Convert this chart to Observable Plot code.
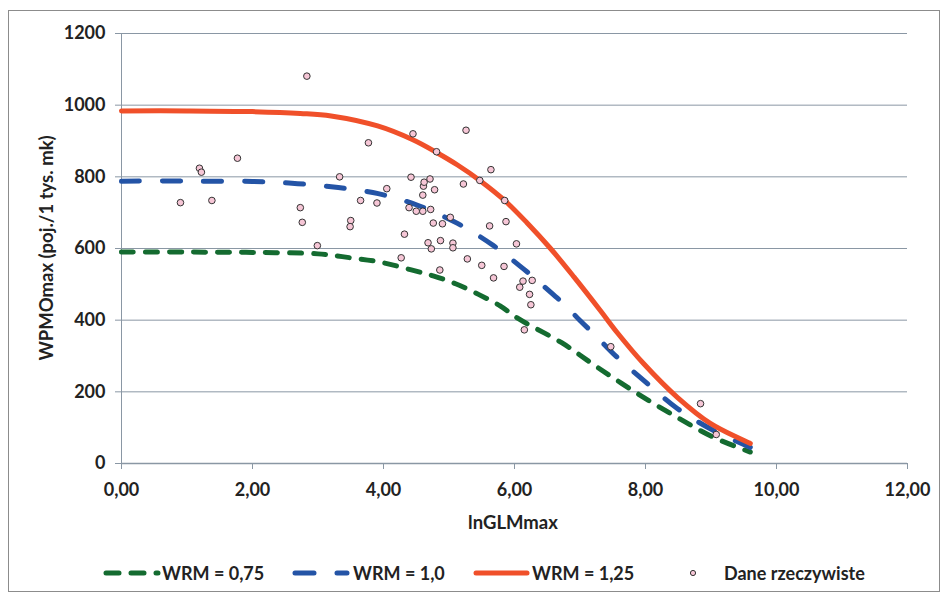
<!DOCTYPE html>
<html>
<head>
<meta charset="utf-8">
<script src="https://cdn.jsdelivr.net/npm/d3@7"></script>
<script src="https://cdn.jsdelivr.net/npm/@observablehq/plot@0.6"></script>
<style>
  html, body { margin: 0; padding: 0; background: #fff; }
  #wrap { position: relative; width: 944px; height: 600px; overflow: hidden; font-family: Lato, "Open Sans", sans-serif; font-weight: bold; color: #222; }
  #frame { position: absolute; left: 8px; top: 10px; width: 930px; height: 580px; border: 1px solid #8c8c8c; }
  #chart { position: absolute; left: 0; top: 0; }
  .ytitle { position: absolute; left: 46px; top: 248px; transform: translate(-50%, -50%) rotate(-90deg); white-space: nowrap; font-size: 18.5px; }
  .xtitle { position: absolute; left: 513px; top: 522px; transform: translate(-50%, -50%); white-space: nowrap; font-size: 18.5px; }
  .leg { position: absolute; top: 573px; transform: translateY(-50%); display: flex; align-items: center; font-size: 18px; white-space: nowrap; }
  .leg svg { display: block; margin-right: 1px; }
</style>
</head>
<body>
<div id="wrap">
  <div id="frame"></div>
  <div id="chart"></div>
  <div class="ytitle">WPMOmax (poj./1 tys. mk)</div>
  <div class="xtitle">lnGLMmax</div>
  <div id="legend"></div>
</div>
<script>
// Tick values
const xTicks = [0, 2, 4, 6, 8, 10, 12];
const yTicks = [0, 200, 400, 600, 800, 1000, 1200];

// Model curves
const wrm075X = [0, 1, 2, 3, 3.5, 3.95, 4.41, 4.77, 5.11, 5.45, 5.78, 6.06, 6.72, 7.27, 7.88, 8.49, 9.04, 9.6];
const wrm075Y = [590, 590, 589, 585, 574, 562, 541, 523, 501, 472, 440, 404, 337, 268, 195, 128, 73, 32];

const wrm100X = [0, 1, 2, 2.69, 3.31, 3.92, 4.53, 5.13, 5.68, 6.07, 6.29, 6.55, 6.75, 7.0, 7.21, 7.57, 8.03, 8.49, 9.04, 9.6];
const wrm100Y = [788, 788, 787, 781, 770, 753, 720, 670, 608, 553, 520, 478, 446, 399, 362, 296, 223, 153, 92, 45];

const wrm125X = [0, 1, 2, 2.73, 3.2, 3.91, 4.44, 4.81, 5.13, 5.47, 5.85, 6.19, 6.55, 6.91, 7.31, 7.57, 7.97, 8.49, 8.99, 9.6];
const wrm125Y = [984, 984, 982, 977, 970, 942, 904, 868, 833, 790, 734, 672, 600, 520, 427, 365, 279, 184, 112, 56];

// Observed data ("Dane rzeczywiste")
const obsX = [0.90, 1.19, 1.22, 1.38, 1.77, 2.83, 2.73, 2.76, 2.99,
  3.33, 3.50, 3.49, 3.65, 3.77, 3.90, 4.05, 4.27, 4.32,
  4.39, 4.42, 4.45, 4.50, 4.60, 4.60, 4.61, 4.62, 4.71, 4.72, 4.78, 4.81, 4.76, 4.90, 4.68, 4.73, 4.87, 4.86,
  5.02, 5.06, 5.06, 5.22, 5.26, 5.28, 5.47, 5.50, 5.62, 5.64, 5.68, 5.84, 5.85, 5.87, 6.03, 6.08, 6.13, 6.27, 6.23, 6.25, 6.15,
  7.47, 8.84, 9.08];
const obsY = [728, 824, 813, 734, 852, 1081, 714, 673, 608,
  800, 678, 661, 734, 895, 727, 767, 574, 640,
  714, 799, 920, 704, 704, 749, 774, 785, 794, 709, 764, 870, 671, 669, 616, 599, 622, 540,
  687, 615, 602, 780, 930, 571, 790, 553, 663, 820, 518, 550, 734, 675, 613, 492, 509, 511, 472, 443, 373,
  326, 167, 81];

const seriesNames = ["WRM = 0,75", "WRM = 1,0", "WRM = 1,25", "Dane rzeczywiste"];
const seriesColors = ["#146b30", "#2454a6", "#f0502a", "#f6c6d6"];

const toRows = (xs, ys) => xs.map((x, i) => ({x, y: ys[i]}));
const g = toRows(wrm075X, wrm075Y);
const b = toRows(wrm100X, wrm100Y);
const r = toRows(wrm125X, wrm125Y);
const obs = toRows(obsX, obsY);

const axisGray = "#8a97a4";
const fmtX = d => d.toFixed(2).replace(".", ",");

const plot = Plot.plot({
  width: 944,
  height: 545,
  marginLeft: 121,
  marginRight: 37,
  marginTop: 33,
  marginBottom: 82,
  style: {fontFamily: "Lato, 'Open Sans', sans-serif", fontWeight: "bold", fontSize: "18px", color: "#222", background: "transparent"},
  x: {domain: [0, 12], label: null},
  y: {domain: [0, 1200], label: null},
  marks: [
    Plot.gridY(yTicks, {stroke: axisGray, strokeOpacity: 1, strokeWidth: 1}),
    Plot.ruleX([0], {stroke: axisGray, strokeWidth: 1}),
    Plot.ruleY([0], {stroke: axisGray, strokeWidth: 1.5}),
    Plot.axisX(xTicks, {tickFormat: fmtX, tickSize: 6, tickPadding: 14, stroke: axisGray, fill: "#222", label: null}),
    Plot.axisY(yTicks, {tickFormat: d => String(d), tickSize: 6, tickPadding: 10, stroke: axisGray, fill: "#222", label: null}),
    Plot.line(g, {x: "x", y: "y", curve: "catmull-rom", stroke: seriesColors[0], strokeWidth: 5, strokeDasharray: "12,12", strokeLinecap: "round"}),
    Plot.line(b, {x: "x", y: "y", curve: "catmull-rom", stroke: seriesColors[1], strokeWidth: 5, strokeDasharray: "18,23", strokeLinecap: "round"}),
    Plot.line(r, {x: "x", y: "y", curve: "catmull-rom", stroke: seriesColors[2], strokeWidth: 5, strokeLinecap: "round"}),
    Plot.dot(obs, {x: "x", y: "y", r: 3.3, fill: seriesColors[3], stroke: "#333", strokeWidth: 1})
  ]
});
document.getElementById("chart").appendChild(plot);

// Legend
const legend = document.getElementById("legend");
const legendLeft = [101, 290, 471, 680];
const samples = [
  `<svg width="60" height="10"><line x1="5" y1="5" x2="57" y2="5" stroke="${seriesColors[0]}" stroke-width="5" stroke-dasharray="13,12" stroke-linecap="round"/></svg>`,
  `<svg width="62" height="10"><line x1="5" y1="5" x2="57" y2="5" stroke="${seriesColors[1]}" stroke-width="5" stroke-dasharray="19,23" stroke-linecap="round"/></svg>`,
  `<svg width="60" height="10"><line x1="5" y1="5" x2="56" y2="5" stroke="${seriesColors[2]}" stroke-width="5" stroke-linecap="round"/></svg>`,
  `<svg width="43" height="10"><circle cx="13" cy="5" r="2.6" fill="${seriesColors[3]}" stroke="#333" stroke-width="1"/></svg>`
];
seriesNames.forEach((name, i) => {
  const d = document.createElement("div");
  d.className = "leg";
  d.style.left = legendLeft[i] + "px";
  d.innerHTML = samples[i] + `<span>${name}</span>`;
  legend.appendChild(d);
});
</script>
</body>
</html>
